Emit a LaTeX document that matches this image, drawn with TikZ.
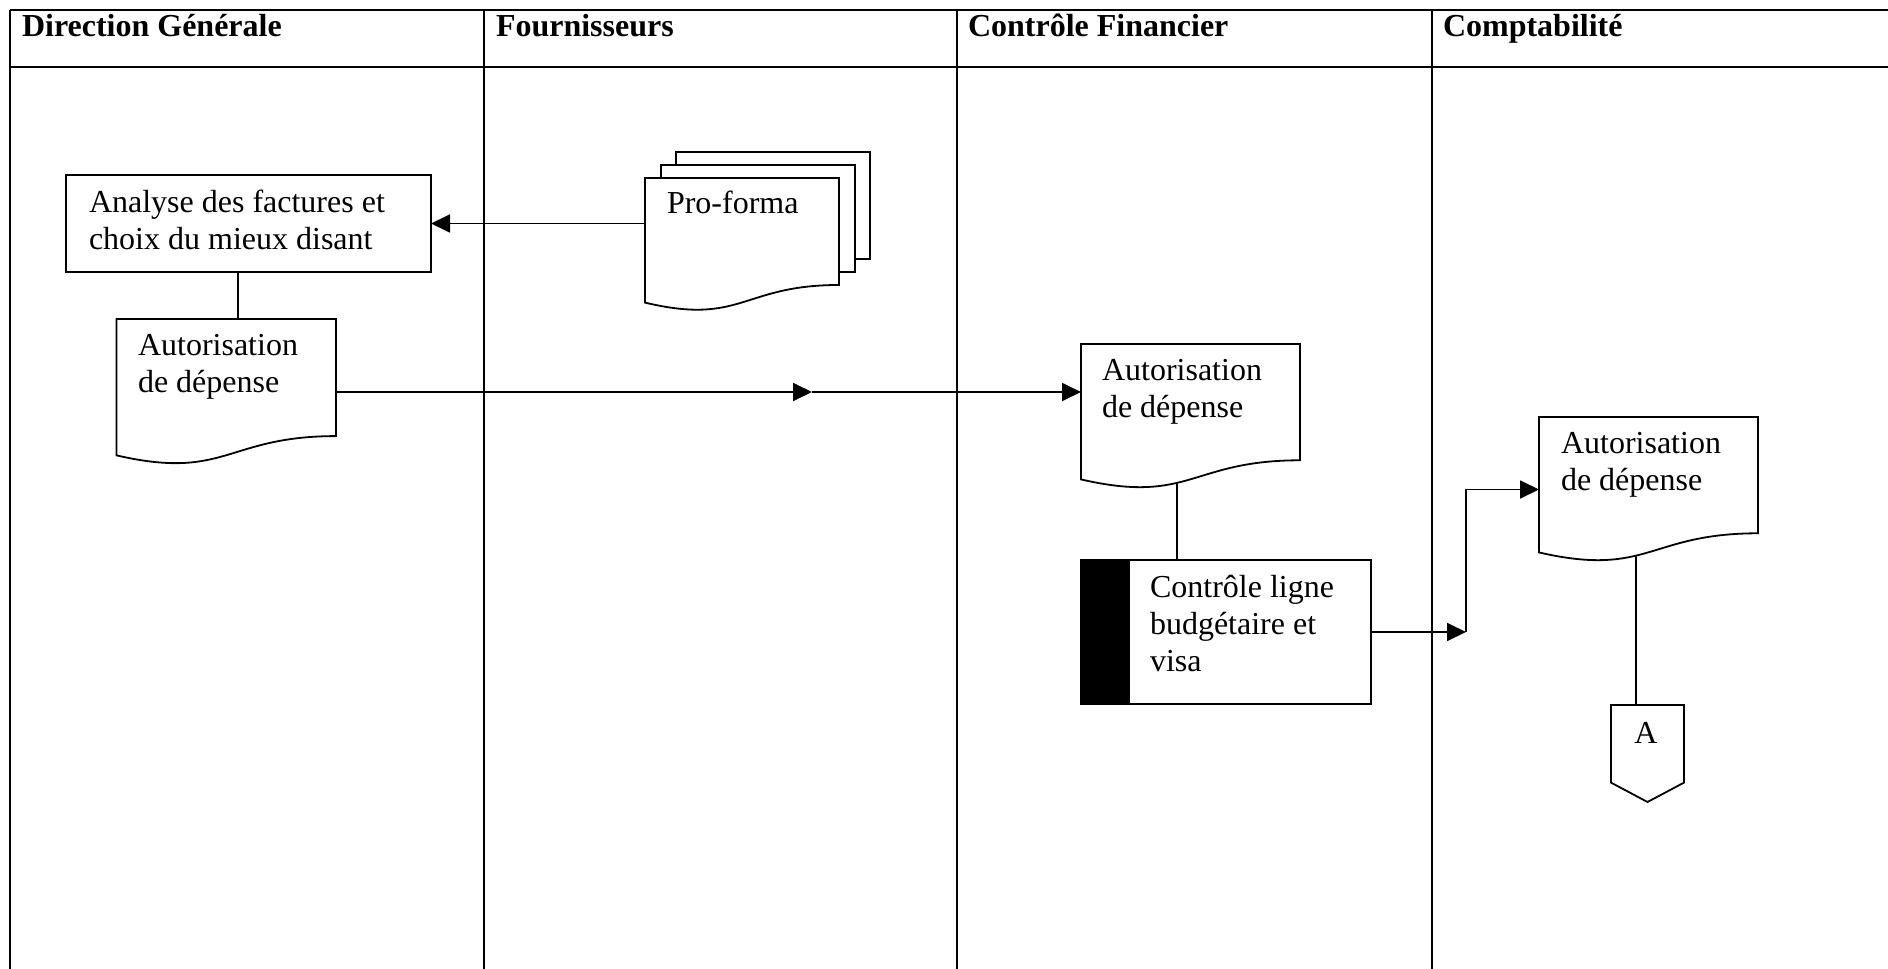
\documentclass[tikz,border=0pt]{standalone}
\usepackage{fontspec}
\setmainfont{Liberation Serif}
\usetikzlibrary{calc,arrows.meta}

\tikzset{
  frame/.style={line width=1.6pt},
  line/.style={line width=1.8pt},
  arr/.style={line width=1.8pt, -{Triangle[length=19pt,width=18pt]}},
  slot/.style={draw=none, inner sep=0pt, outer sep=0pt},
  txt/.style={inner sep=0pt, outer sep=0pt, anchor=base west, font=\fontsize{32}{37}\selectfont},
  head/.style={txt, font=\fontsize{32}{37}\selectfont\bfseries},
  shapeline/.style={line width=1.8pt, fill=white, line join=miter},
}

% text blocks whose baseline is that of their first line
\newcommand\twolines[2]{\vtop{\hbox{#1}\hbox{#2}}}
\newcommand\threelines[3]{\vtop{\hbox{#1}\hbox{#2}\hbox{#3}}}

% flowchart document symbol drawn on the frame of a node
\newcommand\docshape[1]{%
  \draw[shapeline] (#1.north west) -- (#1.north east)
    -- ($(#1.north east)!0.802!(#1.south east)$)
    .. controls ($(#1.north)!0.802!(#1.south)$) and ($(#1.north)!1.1075!(#1.south)$)
    .. ($(#1.north west)!0.934!(#1.south west)$) -- cycle;}
% a sheet lying behind the front one of a multi-document symbol
\newcommand\backsheet[1]{%
  \draw[shapeline] (#1.north west) -- (#1.north east)
    -- ($(#1.north east)!0.802!(#1.south east)$)
    -- ($(#1.north west)!0.802!(#1.south west)$) -- cycle;}

\begin{document}
\begin{tikzpicture}[x=1pt,y=-1pt]
\useasboundingbox (0,0) rectangle (1888,969);

% swimlane grid
\draw[frame] (10,10) -- (1888,10);
\draw[frame] (10,67) -- (1888,67);
\foreach \x in {10,484,957,1432} \draw[frame] (\x,10) -- (\x,969);

% lane titles
\node[head] (h1) at (22,36) {Direction Générale};
\node[head] (h2) at (496,36) {Fournisseurs};
\node[head] (h3) at (968,36) {Contrôle Financier};
\node[head] (h4) at (1443,36) {Comptabilité};

% frames of the symbols
\node[slot, minimum width=365pt, minimum height=97pt] (A1) at (248.5,223.5) {};
\node[slot, minimum width=219.5pt, minimum height=146pt] (D1) at (226.25,392) {};
\node[slot, minimum width=194pt, minimum height=133.4pt] (PF) at (742,244.7) {};
\node[slot, minimum width=194pt, minimum height=133.4pt] (PF2) at (758,231.7) {};
\node[slot, minimum width=194pt, minimum height=133.4pt] (PF3) at (773,218.7) {};
\node[slot, minimum width=219pt, minimum height=145pt] (D2) at (1190.5,416.5) {};
\node[slot, minimum width=290pt, minimum height=144pt] (P2) at (1226,632) {};
\node[slot, minimum width=219pt, minimum height=145pt] (D3) at (1648.5,489.5) {};
\node[slot, minimum width=73pt, minimum height=97pt] (OFF) at (1647.5,753.5) {};
\coordinate (mid) at (812,392);
\coordinate (bend) at (1466,632);

% connectors (symbols are filled white on top of them)
\draw[arr] (PF.west |- A1.east) -- (A1.east);
\draw[line] ([xshift=-10.5pt]A1.south) -- ([xshift=-10.5pt]A1.south |- D1.north);
\draw[arr] (D1.east) -- (mid);
\draw[arr] (mid) -- (D2.west |- D1.east);
\draw[line] ([xshift=-13.5pt]D2.center) -- ([xshift=-13.5pt]D2.center |- P2.north);
\draw[arr] (P2.east) -- (bend);
\draw[arr] (bend) |- (D3.west);
\draw[line] ([xshift=-12.5pt]D3.center) -- ([xshift=-12.5pt]D3.center |- OFF.north);

% symbols
\draw[shapeline] (A1.north west) rectangle (A1.south east);
\backsheet{PF3}
\backsheet{PF2}
\docshape{PF}
\docshape{D1}
\docshape{D2}
\docshape{D3}
\draw[shapeline] (P2.north west) rectangle (P2.south east);
\fill (P2.north west) rectangle ([xshift=49pt]P2.south west);
\draw[shapeline] (OFF.north west) -- (OFF.north east)
  -- ($(OFF.north east)!0.8!(OFF.south east)$) -- (OFF.south)
  -- ($(OFF.north west)!0.8!(OFF.south west)$) -- cycle;

% texts
\node[txt] (A1t) at (89,212) {\twolines{Analyse des factures et}{choix du mieux disant}};
\node[txt] (PFt) at (667,213) {Pro-forma};
\node[txt] (D1t) at (138,355) {\twolines{Autorisation}{de dépense}};
\node[txt] (D2t) at (1102,380) {\twolines{Autorisation}{de dépense}};
\node[txt] (P2t) at (1150,597) {\threelines{Contrôle ligne}{budgétaire et}{visa}};
\node[txt] (D3t) at (1561,453) {\twolines{Autorisation}{de dépense}};
\node[txt, anchor=base] (OFFt) at (1646,743) {A};
\end{tikzpicture}
\end{document}
